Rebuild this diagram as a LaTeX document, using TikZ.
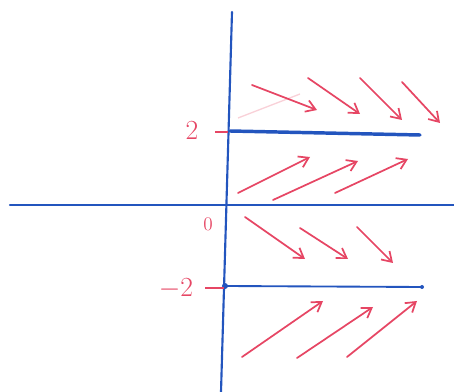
\documentclass[tikz,border=0pt]{standalone}
\usepackage{amsmath}
\usetikzlibrary{arrows.meta}
\definecolor{penblue}{RGB}{35,85,190}
\definecolor{penred}{RGB}{230,70,100}
\tikzstyle{axisline} = [color=penblue, line width=1.6pt, line cap=round]
\tikzstyle{slope} = [color=penred, line width=1.3pt, line cap=round, -{Straight Barb[length=7pt,width=9pt,line width=1.3pt]}]
\tikzstyle{ticklbl} = [color=penred, font=\huge, inner sep=0.75pt]

\begin{document}
\begin{tikzpicture}[x=0.75pt,y=0.75pt,yscale=-1,xscale=1]
\useasboundingbox (0,0) rectangle (454,392);

%Axes
\coordinate (ytop) at (232,12);
\coordinate (ybot) at (221,392);
\coordinate (xleft) at (10,205);
\coordinate (xright) at (454,205);
\draw [axisline] (ytop) -- (ybot) ;
\draw [axisline] (xleft) -- (xright) ;

%Equilibrium lines
\coordinate (upA) at (230,131);
\coordinate (upB) at (420,135);
\coordinate (loA) at (225,286);
\coordinate (loB) at (422,287);
\draw [axisline, line width=2.6pt] (upA) -- (upB) ;
\draw [axisline, line width=1.4pt] (loA) -- (loB) ;
\fill [penblue] (loA) circle (3) ;
\fill [penblue] (loB) circle (2) ;

%Tick marks
\draw [color=penred, line width=1.1pt] (215,132) -- (228,132) ;
\draw [color=penred, line width=1.1pt] (205,288) -- (224,288) ;

% Text Node
\node (lbltwo) [ticklbl] at (192,131) {$2$};
% Text Node
\node (lblzero) [ticklbl, font=\Large] at (208,224) {$0$};
% Text Node
\node (lblmtwo) [ticklbl] at (176,289) {$-2$};

%Slopes above y=2
\draw [color=penred, opacity=0.25, line width=1pt] (238,118) -- (300,94) ;
\draw [slope] (252,85) -- (317,110) ;
\draw [slope] (308,78) -- (360,114) ;
\draw [slope] (360,78) -- (402,120) ;
\draw [slope] (402,82) -- (440,123) ;

%Slopes between 0 and 2
\draw [slope] (238,193) -- (310,157) ;
\draw [slope] (273,200) -- (358,161) ;
\draw [slope] (335,193) -- (408,159) ;

%Slopes between -2 and 0
\draw [slope] (245,217) -- (305,259) ;
\draw [slope] (300,228) -- (348,259) ;
\draw [slope] (357,227) -- (393,263) ;

%Slopes below y=-2
\draw [slope] (242,357) -- (323,301) ;
\draw [slope] (297,358) -- (373,307) ;
\draw [slope] (347,357) -- (417,301) ;

\end{tikzpicture}
\end{document}
